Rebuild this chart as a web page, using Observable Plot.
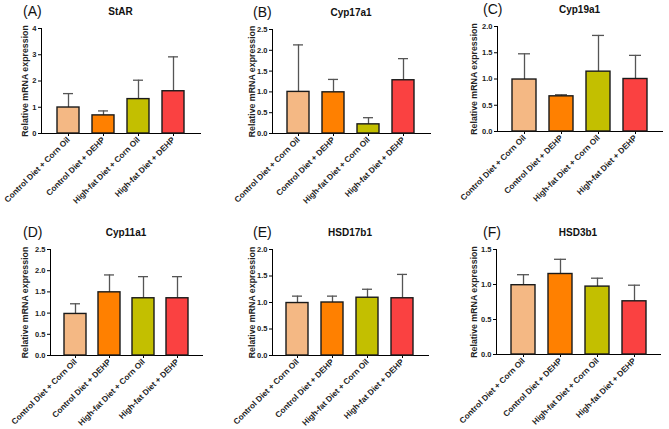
<!DOCTYPE html>
<html>
<head>
<meta charset="utf-8">
<script src="https://cdn.jsdelivr.net/npm/d3@7"></script>
<script src="https://cdn.jsdelivr.net/npm/@observablehq/plot@0.6"></script>
<style>
  html, body { margin: 0; padding: 0; background: #fff; }
  #root { position: relative; width: 669px; height: 429px; overflow: hidden; font-family: "Liberation Sans", Arial, sans-serif; }
  .panel { position: absolute; width: 223px; height: 214px; }
  .panel svg { position: absolute; left: 0; top: 0; font-family: "Liberation Sans", Arial, sans-serif; }
  .letter { position: absolute; font-size: 14px; line-height: 14px; color: #111; white-space: nowrap; }
  .title { position: absolute; font-size: 10px; line-height: 10px; font-weight: bold; color: #111; text-align: center; white-space: nowrap; }
  g[aria-label="y-axis tick label"] text { font-size: 7.5px; font-weight: bold; fill: #222; }
  g[aria-label="x-axis tick label"] text { font-size: 8.2px; font-weight: bold; fill: #222; }
  g[aria-label="y-axis label"] text { font-size: 8.8px; font-weight: bold; fill: #222; }
</style>
</head>
<body>
<div id="root"></div>
<script>
// ---- data ----
const groups = ["Control Diet + Corn Oil", "Control Diet + DEHP", "High-fat Diet + Corn Oil", "High-fat Diet + DEHP"];
const groupColors = ["#F4B884", "#FF8000", "#C3BF00", "#FA4141"];
const genes = ["StAR", "Cyp17a1", "Cyp19a1", "Cyp11a1", "HSD17b1", "HSD3b1"];
const panelLetters = ["(A)", "(B)", "(C)", "(D)", "(E)", "(F)"];

const meanStAR    = [0.99, 0.69, 1.31, 1.61];
const sdStAR      = [0.53, 0.17, 0.72, 1.31];
const meanCyp17a1 = [1.00, 0.99, 0.22, 1.28];
const sdCyp17a1   = [1.13, 0.31, 0.16, 0.52];
const meanCyp19a1 = [0.99, 0.67, 1.14, 1.00];
const sdCyp19a1   = [0.49, 0.03, 0.69, 0.45];
const meanCyp11a1 = [0.98, 1.49, 1.35, 1.35];
const sdCyp11a1   = [0.24, 0.41, 0.51, 0.51];
const meanHSD17b1 = [0.99, 1.00, 1.09, 1.08];
const sdHSD17b1   = [0.13, 0.12, 0.16, 0.45];
const meanHSD3b1  = [0.99, 1.15, 0.97, 0.76];
const sdHSD3b1    = [0.15, 0.21, 0.12, 0.23];

const yMax   = [4, 2.5, 2, 2.5, 2, 1.5];
const yStep  = [1, 0.5, 0.5, 0.5, 0.5, 0.5];
const yLabel = "Relative mRNA expression";

const means = [meanStAR, meanCyp17a1, meanCyp19a1, meanCyp11a1, meanHSD17b1, meanHSD3b1];
const sds   = [sdStAR, sdCyp17a1, sdCyp19a1, sdCyp11a1, sdHSD17b1, sdHSD3b1];

// ---- layout ----
const layout = [
  {left: 0,   top: 0,   ml: 41, mr: 23, mt: 28, mb: 81, lx: 23, lo: 20},
  {left: 223, top: 0,   ml: 49, mr: 16, mt: 29, mb: 81, lx: 30, lo: 23.5},
  {left: 446, top: 0,   ml: 51, mr: 7,  mt: 26, mb: 83, lx: 37, lo: 27},
  {left: 0,   top: 215, ml: 50, mr: 21, mt: 34, mb: 74, lx: 23, lo: 29},
  {left: 223, top: 215, ml: 49, mr: 18, mt: 34, mb: 74, lx: 30, lo: 23.5},
  {left: 446, top: 215, ml: 50, mr: 9,  mt: 34, mb: 75, lx: 37, lo: 26}
];

const root = document.getElementById("root");

genes.forEach((gene, i) => {
  const L = layout[i];
  const data = groups.map((g, j) => ({group: g, mean: means[i][j], top: means[i][j] + sds[i][j]}));
  const ticks = d3.range(0, yMax[i] + 1e-9, yStep[i]);
  const fmt = yStep[i] === 1 ? d3.format("d") : d3.format(".1f");

  const chart = Plot.plot({
    width: 223,
    height: 214,
    marginLeft: L.ml,
    marginRight: L.mr,
    marginTop: L.mt,
    marginBottom: L.mb,
    x: {
      domain: groups,
      paddingInner: 0.36,
      paddingOuter: 0.39,
      label: null,
      tickRotate: -45,
      tickSize: 3,
      tickPadding: 2,
      line: true
    },
    y: {
      domain: [0, yMax[i]],
      ticks: ticks,
      tickFormat: fmt,
      tickSize: 3,
      tickPadding: 2,
      line: true,
      label: yLabel,
      labelAnchor: "center",
      labelArrow: "none",
      labelOffset: L.lo
    },
    color: {domain: groups, range: groupColors},
    marks: [
      Plot.ruleX(data, {x: "group", y1: "mean", y2: "top", stroke: "#555", strokeWidth: 1.3}),
      Plot.tickY(data, {x: "group", y: "top", stroke: "#555", strokeWidth: 1.3, insetLeft: 6, insetRight: 6}),
      Plot.barY(data, {x: "group", y: "mean", fill: "group", stroke: "#1a1a1a", strokeWidth: 1.4})
    ]
  });

  const panel = document.createElement("div");
  panel.className = "panel";
  panel.style.left = L.left + "px";
  panel.style.top = L.top + "px";
  panel.appendChild(chart);

  const letter = document.createElement("div");
  letter.className = "letter";
  letter.textContent = panelLetters[i];
  letter.style.left = L.lx + "px";
  letter.style.top = (L.mt - 24) + "px";
  panel.appendChild(letter);

  const title = document.createElement("div");
  title.className = "title";
  title.textContent = gene;
  title.style.left = L.ml + "px";
  title.style.width = (223 - L.ml - L.mr) + "px";
  title.style.top = (L.mt - 21) + "px";
  panel.appendChild(title);

  root.appendChild(panel);
});
</script>
</body>
</html>
